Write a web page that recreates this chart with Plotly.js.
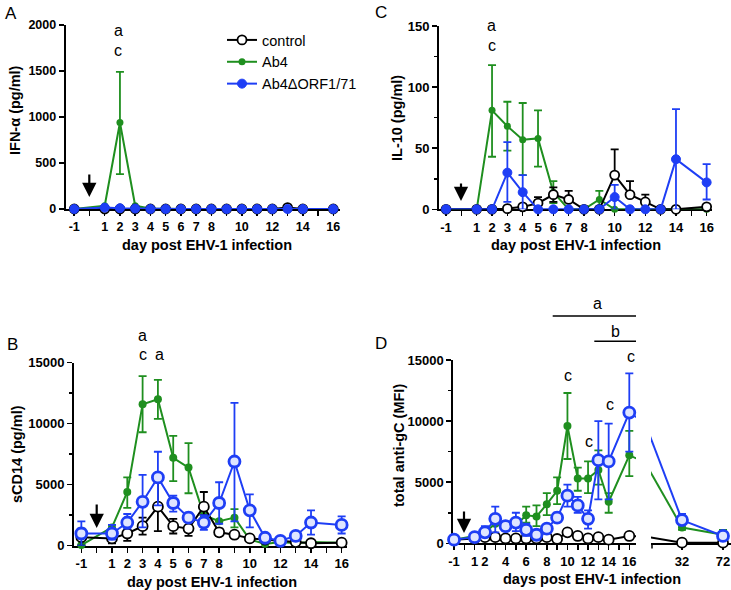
<!DOCTYPE html>
<html><head><meta charset="utf-8">
<script src="https://cdn.plot.ly/plotly-3.0.1.min.js"></script>
<style>body{margin:0;background:#fff}#c{width:731px;height:590px}</style>
</head><body><div id="c"></div><script>
// ---------- data ----------
var days = [-1,1,2,3,4,5,6,7,8,9,10,11,12,13,14,16];
var lateDays = ['32','72'];

// A: IFN-alpha (pg/ml)
var ctrlA = [0,0,0,0,0,0,0,0,0,0,0,0,0,15,0,0];
var ab4A  = [0,35,940,35,5,0,0,0,0,0,0,0,0,0,0,0];
var ab4APlus  = [0,0,550,0,0,0,0,0,0,0,0,0,0,0,0,0];
var ab4AMinus = [0,0,560,0,0,0,0,0,0,0,0,0,0,0,0,0];
var delA  = [0,15,8,5,0,0,0,0,0,0,0,0,0,0,0,0];

// C: IL-10 (pg/ml)
var ctrlC = [0,0,0,0.5,2,5,12,8,0,0,28,12,6,0,0,2];
var ctrlCPlus  = [0,0,0,0,0,5,6,7,0,0,21,11,6,0,0,0];
var ctrlCMinus = [0,0,0,0,0,0,6,0,0,0,0,0,0,0,0,0];
var ab4C  = [0,0,81,68,57,58,14,0,0,8,0,0,0,0,0,0];
var ab4CPlus  = [0,0,37,20,30,23,9,0,0,7,0,0,0,0,0,0];
var ab4CMinus = [0,0,38,20,29,23,9,0,0,8,0,0,0,0,0,0];
var delC  = [0,0,0,30,14,0,0,0,0,0,10,0,0,0,41,22];
var delCPlus  = [0,0,0,25,14,0,0,0,0,0,10,0,0,0,41,15];
var delCMinus = [0,0,0,24,14,0,0,0,0,0,10,0,0,0,41,14];

// B: sCD14 (pg/ml)
var ctrlB = [700,600,1000,1600,3200,1600,1400,3200,1100,900,600,500,400,300,200,250];
var ctrlBPlus  = [700,400,600,700,2000,600,600,1200,300,0,0,0,0,0,0,0];
var ctrlBMinus = [700,400,600,700,2000,600,600,700,300,0,0,0,0,0,0,0];
var ab4B  = [50,1500,4400,11600,12000,7200,6400,2500,2000,2300,500,150,300,200,300,250];
var ab4BPlus  = [0,200,1200,2300,1600,1800,2000,0,0,700,0,0,0,0,0,0];
var ab4BMinus = [0,200,1300,2300,1600,1900,2100,0,0,800,0,0,0,0,0,0];
var delB  = [1000,1000,1900,3600,5600,3500,2300,1900,3500,6900,2900,650,400,800,1900,1700];
var delBPlus  = [1000,700,700,2200,2100,600,400,600,1700,4800,1300,100,100,300,1000,700];
var delBMinus = [1000,500,500,2100,2300,700,300,600,1700,4900,1400,100,100,400,1000,700];

// D: total anti-gC (MFI)
var ctrlD = [300,400,500,500,400,400,400,400,500,350,900,600,400,500,300,600];
var ctrlDLate = [50,50];
var ab4D  = [300,600,900,1600,1300,1500,2300,2200,3200,4300,9600,5300,5300,6000,3400,7200];
var ab4DPlus  = [0,0,300,0,0,0,700,900,900,1100,2700,900,1400,1600,700,2000];
var ab4DMinus = [0,0,300,0,0,0,600,800,900,1100,2700,1000,1200,1200,900,1700];
var ab4DLate = [1300,700];
var ab4DLatePlus = [200,400];
var ab4DLateMinus = [200,300];
var delD  = [300,500,900,2000,1400,1700,1100,700,1200,2100,3900,3100,2000,6800,6700,10700];
var delDPlus  = [0,0,500,1000,400,800,500,200,200,400,900,700,700,3200,3100,3200];
var delDMinus = [0,0,400,1100,400,700,500,200,300,300,900,600,800,3200,3100,3200];
var delDLate = [1900,600];
var delDLatePlus = [500,300];
var delDLateMinus = [400,300];

var seriesNames = ['control','Ab4','Ab4\u0394ORF1/71'];
var xTickVals = [-1,0,1,2,3,4,5,6,7,8,9,10,11,12,13,14,15,16];
var xTickText = ['-1','','1','2','3','4','5','6','7','8','','10','','12','','14','','16'];
var xTickTextD = ['-1','','1','2','','4','','6','','8','','10','','12','','14','','16'];

// ---------- styling ----------
var W = 731, H = 590;
function px(x){ return x / W; }
function py(y){ return 1 - y / H; }
var FONT = 'Liberation Sans, Arial, sans-serif';
var GREEN = '#1f8f1f', BLUE = '#1e3ef5', BLACK = '#000000';

function tr(kind, x, y, plus, minus, xa, ya, big, showlegend){
  var t = {type:'scatter', mode:'lines+markers', x:x, y:y, xaxis:xa, yaxis:ya,
           cliponaxis:false, showlegend:!!showlegend, hoverinfo:'skip'};
  var col = kind===0 ? BLACK : (kind===1 ? GREEN : BLUE);
  t.name = seriesNames[kind];
  t.legendrank = kind===0 ? 1 : (kind===1 ? 2 : 3);
  t.line = {color:col, width:2};
  if(kind===0){
    t.marker = {symbol:'circle', size: big?10:9, color:'#ffffff', line:{color:BLACK, width:1.8}};
  } else if(kind===1){
    t.marker = {symbol:'circle', size: big?8:7, color:GREEN, line:{color:GREEN, width:0}};
  } else {
    t.marker = big ? {symbol:'circle', size:11, color:'#dfe5ff', line:{color:BLUE, width:2.8}}
                   : {symbol:'circle', size:9, color:BLUE, line:{color:BLUE, width:1}};
  }
  if(plus){
    t.error_y = {type:'data', symmetric:false, array:plus, arrayminus:minus,
                 color:col, thickness:1.8, width:4};
  }
  return t;
}
function bridge(kind, x, y, xa, ya){
  var col = kind===0 ? BLACK : (kind===1 ? GREEN : BLUE);
  return {type:'scatter', mode:'lines', x:x, y:y, xaxis:xa, yaxis:ya, showlegend:false,
          hoverinfo:'skip', line:{color:col, width:2}};
}

var n = days.length;
var data = [
  // Panel A (x, y)
  tr(1, days, ab4A, ab4APlus, ab4AMinus, 'x', 'y', false, true),
  tr(0, days, ctrlA, null, null, 'x', 'y', false, true),
  tr(2, days, delA, null, null, 'x', 'y', false, true),
  // Panel C (x2, y2)
  tr(1, days, ab4C, ab4CPlus, ab4CMinus, 'x2', 'y2', false),
  tr(0, days, ctrlC, ctrlCPlus, ctrlCMinus, 'x2', 'y2', false),
  tr(2, days, delC, delCPlus, delCMinus, 'x2', 'y2', false),
  // Panel B (x3, y3)
  tr(1, days, ab4B, ab4BPlus, ab4BMinus, 'x3', 'y3', true),
  tr(0, days, ctrlB, ctrlBPlus, ctrlBMinus, 'x3', 'y3', true),
  tr(2, days, delB, delBPlus, delBMinus, 'x3', 'y3', true),
  // Panel D bridges across the axis break
  bridge(1, [days[n-1], +lateDays[0]], [ab4D[n-1], ab4DLate[0]], 'x4', 'y4'),
  bridge(0, [days[n-1], +lateDays[0]], [ctrlD[n-1], ctrlDLate[0]], 'x4', 'y4'),
  bridge(2, [days[n-1], +lateDays[0]], [delD[n-1], delDLate[0]], 'x4', 'y4'),
  bridge(1, [String(days[n-1]), lateDays[0]], [ab4D[n-1], ab4DLate[0]], 'x5', 'y4'),
  bridge(0, [String(days[n-1]), lateDays[0]], [ctrlD[n-1], ctrlDLate[0]], 'x5', 'y4'),
  bridge(2, [String(days[n-1]), lateDays[0]], [delD[n-1], delDLate[0]], 'x5', 'y4'),
  // Panel D left segment (x4, y4)
  tr(1, days, ab4D, ab4DPlus, ab4DMinus, 'x4', 'y4', true),
  tr(0, days, ctrlD, null, null, 'x4', 'y4', true),
  tr(2, days, delD, delDPlus, delDMinus, 'x4', 'y4', true),
  // Panel D right segment (x5, y4)
  tr(1, lateDays, ab4DLate, ab4DLatePlus, ab4DLateMinus, 'x5', 'y4', true),
  tr(0, lateDays, ctrlDLate, null, null, 'x5', 'y4', true),
  tr(2, lateDays, delDLate, delDLatePlus, delDLateMinus, 'x5', 'y4', true)
];

function xax(d0, d1, range, anchor, ticktext, fs){
  return {domain:[px(d0), px(d1)], range:range, anchor:anchor, showline:true, linewidth:2,
          linecolor:'#000', ticks:'outside', ticklen:5, tickwidth:1.5, tickcolor:'#000',
          tickmode:'array', tickvals:xTickVals, ticktext:ticktext,
          tickfont:{family:FONT, size:fs, color:'#000', weight:'bold'},
          showgrid:false, zeroline:false, layer:'below traces', fixedrange:true};
}
function yax(t0, t1, range, dtick, minor, anchor, fs){
  var a = {domain:[py(t1), py(t0)], range:range, anchor:anchor, showline:true, linewidth:2,
          linecolor:'#000', ticks:'outside', ticklen:5, tickwidth:1.5, tickcolor:'#000',
          tickmode:'linear', tick0:0, dtick:dtick, exponentformat:'none', separatethousands:false,
          tickformat:'d',
          tickfont:{family:FONT, size:fs, color:'#000', weight:'bold'},
          showgrid:false, zeroline:false, layer:'below traces', fixedrange:true};
  if(minor) a.minor = {dtick:minor, ticks:'outside', ticklen:3, tickwidth:1.5, tickcolor:'#000', showgrid:false};
  return a;
}

var layout = {
  width:W, height:H, margin:{l:0,r:0,t:0,b:0}, paper_bgcolor:'#fff', plot_bgcolor:'rgba(0,0,0,0)',
  font:{family:FONT, color:'#000'}, separators:'.',
  showlegend:true,
  legend:{x:px(222), y:py(24), xanchor:'left', yanchor:'top', bgcolor:'rgba(0,0,0,0)',
          font:{family:FONT, size:14.5, color:'#000'}, traceorder:'normal', tracegroupgap:0},
  xaxis:  xax(65.7, 340, [-1.56, 16.44], 'y', xTickText, 12.5),
  yaxis:  yax(25, 209, [0, 2000], 500, null, 'x', 12.5),
  xaxis2: xax(439, 711.7, [-1.46, 16.33], 'y2', xTickText, 13),
  yaxis2: yax(26, 209.3, [0, 150], 50, 25, 'x2', 13),
  xaxis3: xax(74, 346.7, [-1.48, 16.33], 'y3', xTickText, 13),
  yaxis3: yax(362.7, 545.7, [0, 15000], 5000, 2500, 'x3', 13),
  xaxis4: xax(453.3, 636, [-1.07, 16.65], 'y4', xTickTextD, 13),
  yaxis4: yax(360, 543.3, [0, 15000], 5000, 2500, 'x4', 13),
  xaxis5: {domain:[px(651), 1], type:'category', categoryorder:'array', categoryarray:['16','32','72'],
           range:[0.244, 2.195], anchor:'y4', showline:true, linewidth:2, linecolor:'#000',
           ticks:'outside', ticklen:5, tickwidth:1.5, tickcolor:'#000',
           tickmode:'array', tickvals:lateDays, ticktext:lateDays,
           tickfont:{family:FONT, size:13, color:'#000', weight:'bold'},
           showgrid:false, zeroline:false, layer:'below traces', fixedrange:true},
  annotations:[], shapes:[]
};

function txt(x, y, s, size, opts){
  var a = {xref:'paper', yref:'paper', x:px(x), y:py(y), text:s, showarrow:false,
           xanchor:'center', yanchor:'middle', font:{family:FONT, size:size, color:'#000'}};
  if(opts) for(var k in opts){ if(k==='weight') a.font.weight = opts[k]; else a[k] = opts[k]; }
  return a;
}
var A = layout.annotations;
// panel letters
A.push(txt(11, 14, 'A', 17));
A.push(txt(381, 13, 'C', 17));
A.push(txt(12, 344, 'B', 17));
A.push(txt(381, 343, 'D', 17));
// axis titles
A.push(txt(207, 245, 'day post EHV-1 infection', 14.5, {weight:'bold'}));
A.push(txt(576, 245, 'day post EHV-1 infection', 14.5, {weight:'bold'}));
A.push(txt(212, 582, 'day post EHV-1 infection', 14.5, {weight:'bold'}));
A.push(txt(592, 579, 'days post EHV-1 infection', 14.5, {weight:'bold'}));
A.push(txt(15, 110, 'IFN-\u03b1 (pg/ml)', 14.5, {weight:'bold', textangle:-90}));
A.push(txt(397, 118, 'IL-10 (pg/ml)', 14.5, {weight:'bold', textangle:-90}));
A.push(txt(17, 454, 'sCD14 (pg/ml)', 14.5, {weight:'bold', textangle:-90}));
A.push(txt(399, 445, 'total anti-gC (MFI)', 14.5, {weight:'bold', textangle:-90}));
// significance letters
[[118.3,31,'a'],[118.3,51,'c'],[491.7,25,'a'],[491.7,45,'c'],
 [142.7,335,'a'],[142.7,354,'c'],[159.3,354,'a'],
 [597.7,303,'a'],[615,331,'b'],[567.7,375,'c'],[589.3,441,'c'],[610,404,'c'],[630.7,356,'c']
].forEach(function(p){ A.push(txt(p[0], p[1], p[2], 16)); });
// arrows (infection day)
[[89.3,173,197],[461,182,201],[96.7,503,528],[464,510,533]].forEach(function(p){
  A.push({xref:'paper', yref:'paper', x:px(p[0]), y:py(p[2]), ax:0, ay:-(p[2]-p[1]),
          text:'', showarrow:true, arrowhead:2, arrowsize:1.3, arrowwidth:2.2, arrowcolor:'#000', standoff:0});
});
// bars over D
layout.shapes.push({type:'line', xref:'paper', yref:'paper', x0:px(552.7), x1:px(636), y0:py(316), y1:py(316), line:{color:'#000', width:1.6}});
layout.shapes.push({type:'line', xref:'paper', yref:'paper', x0:px(594.3), x1:px(636), y0:py(341.3), y1:py(341.3), line:{color:'#000', width:1.6}});
// tick at start of right segment
layout.shapes.push({type:'line', xref:'paper', yref:'paper', x0:px(652), x1:px(652), y0:py(543.3), y1:py(548.5), line:{color:'#000', width:1.5}});

Plotly.newPlot('c', data, layout, {staticPlot:true});
</script></body></html>
